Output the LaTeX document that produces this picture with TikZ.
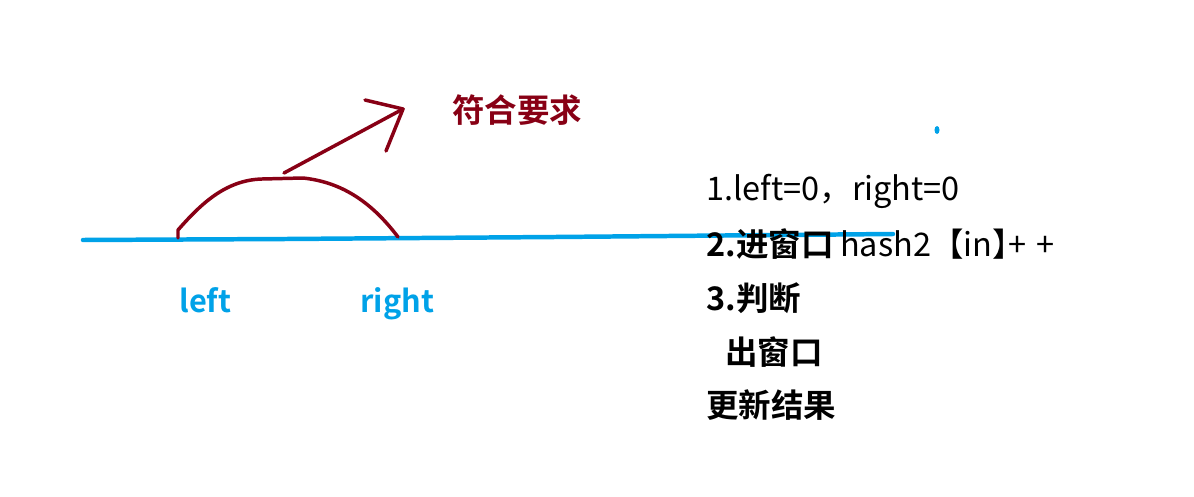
\documentclass[tikz,border=0pt]{standalone}
\usepackage{fontspec}
\setmainfont{Noto Sans CJK SC}
\newfontfamily\cjkb{Noto Sans CJK SC Bold}
\definecolor{pblue}{HTML}{00A2E8}
\definecolor{pred}{HTML}{880015}
\begin{document}
\begin{tikzpicture}[x=0.02cm,y=-0.02cm,
  txt/.style={anchor=base west,inner sep=0pt,font=\fontsize{18.5}{22}\selectfont},
  lbl/.style={anchor=base west,inner sep=0pt,text=pblue,font=\cjkb\fontsize{17.5}{20}\selectfont},
  bluepen/.style={draw=pblue,line width=4.5*0.567pt,line cap=round,line join=round},
  redpen/.style={draw=pred,line width=3.5*0.567pt,line cap=round,line join=round}]
\useasboundingbox[fill=white] (0,0) rectangle (1194,497);
% axis line
\coordinate (a0) at (83,240);
\coordinate (a1) at (286,239);
\coordinate (a2) at (555,237);
\coordinate (a3) at (893,234);
\draw[bluepen] (a0) -- (a1) -- (a2) -- (a3);
\fill[pblue] (937,130) ellipse (2.5 and 4);
% arc
\coordinate (l) at (178,238);
\coordinate (r) at (398,237);
\draw[redpen] (l) -- (178,230) .. controls (200,205) and (225,180) .. (262,179)
  -- (303,178) .. controls (340,182) and (370,200) .. (r);
% arrow
\coordinate (s) at (284,173);
\coordinate (t) at (403,109);
\draw[redpen] (s) -- (t);
\draw[redpen] (365,100) -- (t) -- (386,151);
\node[txt,text=pred,font=\cjkb\fontsize{18.5}{22}\selectfont] (ok) at (452,122) {符合要求};
\node[lbl] (left) at (179,312) {left};
\node[lbl] (right) at (360,312) {right};
% steps
\node[txt] (s1) at (706,200) {1.left=0，right=0};
\node[txt] (s2) at (706,256) {{\cjkb 2.进窗口}\hspace{0.2em}hash2【in】\hspace{-0.5em}+\hspace{0.3em}+};
\node[txt] (s3) at (706,310) {\cjkb 3.判断};
\node[txt] (s4) at (725,364) {\cjkb 出窗口};
\node[txt] (s5) at (706,417) {\cjkb 更新结果};
\end{tikzpicture}
\end{document}
